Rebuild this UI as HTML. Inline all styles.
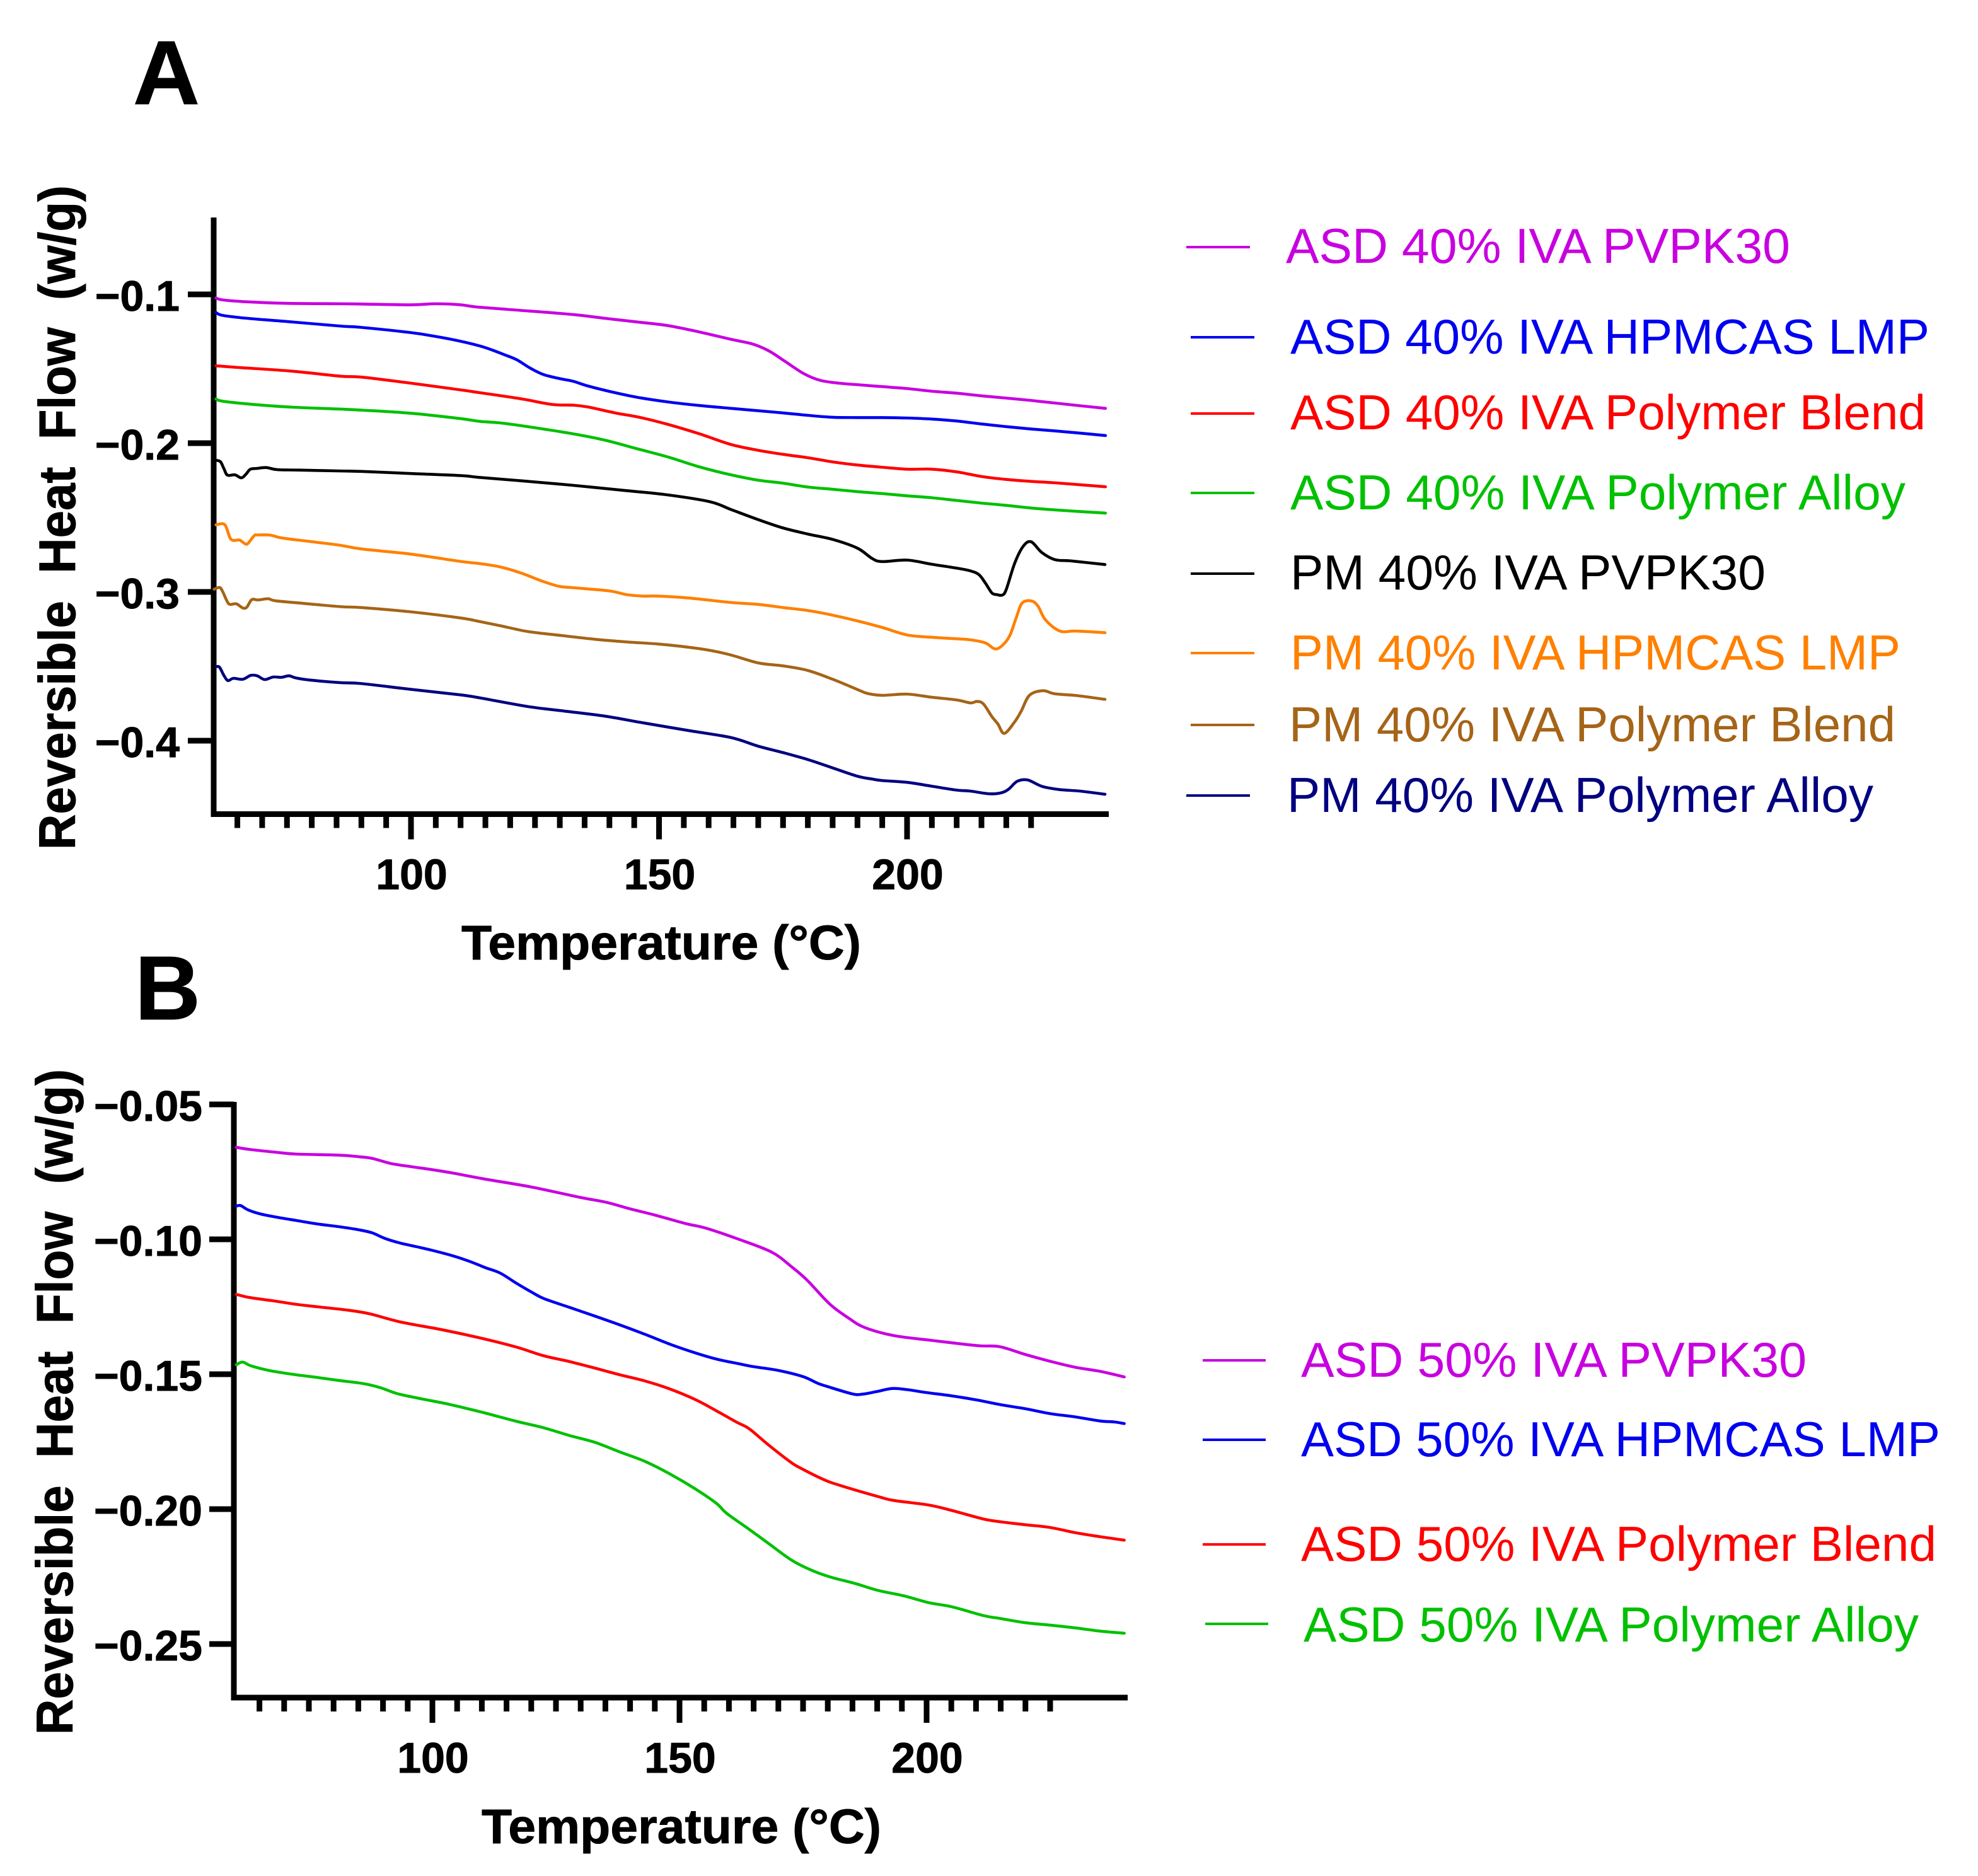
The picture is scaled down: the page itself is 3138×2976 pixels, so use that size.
<!DOCTYPE html>
<html lang="en">
<head>
<meta charset="utf-8">
<title>Reversible heat flow DSC curves</title>
<style>
html,body{margin:0;padding:0;background:#fff;}
svg{display:block;}
text{font-family:"Liberation Sans",sans-serif;white-space:pre;}
.bold{font-weight:700;fill:#000;stroke:#000;stroke-width:0.9;}
.leg{font-size:78px;}
</style>
</head>
<body>
<svg id="figure" xmlns="http://www.w3.org/2000/svg" width="3138" height="2976" viewBox="0 0 3138 2976">
<rect x="0" y="0" width="3138" height="2976" fill="#fff"/>

<text class="bold" x="211" y="165" font-size="144" textLength="106" lengthAdjust="spacingAndGlyphs">A</text>
<text class="bold" x="214" y="1617" font-size="144">B</text>

<g id="panelA"></g>
<g id="panelB"></g>

<text class="bold" x="732" y="1522" font-size="77" textLength="634" lengthAdjust="spacingAndGlyphs">Temperature (°C)</text>
<text class="bold" x="764" y="2924" font-size="77" textLength="634" lengthAdjust="spacingAndGlyphs">Temperature (°C)</text>
<text class="bold" transform="translate(119,1348) rotate(-90)" font-size="82" textLength="1054" lengthAdjust="spacingAndGlyphs">Reversible  Heat  Flow  (w/g)</text>
<text class="bold" transform="translate(115,2752) rotate(-90)" font-size="82" textLength="1056" lengthAdjust="spacingAndGlyphs">Reversible  Heat  Flow  (w/g)</text>

<g stroke-width="4">
<g><line x1="1882" x2="1983" y1="392" y2="392" stroke="#c800e0"/><text class="leg" x="2040" y="417" fill="#c800e0" stroke="none" textLength="800" lengthAdjust="spacingAndGlyphs">ASD 40% IVA PVPK30</text></g>
<g><line x1="1889" x2="1990" y1="535" y2="535" stroke="#0000f0"/><text class="leg" x="2047" y="561" fill="#0000f0" stroke="none" textLength="1014" lengthAdjust="spacingAndGlyphs">ASD 40% IVA HPMCAS LMP</text></g>
<g><line x1="1889" x2="1990" y1="656" y2="656" stroke="#ff0000"/><text class="leg" x="2047" y="681" fill="#ff0000" stroke="none" textLength="1008" lengthAdjust="spacingAndGlyphs">ASD 40% IVA Polymer Blend</text></g>
<g><line x1="1889" x2="1990" y1="782" y2="782" stroke="#00c000"/><text class="leg" x="2047" y="808" fill="#00c000" stroke="none" textLength="976" lengthAdjust="spacingAndGlyphs">ASD 40% IVA Polymer Alloy</text></g>
<g><line x1="1889" x2="1990" y1="910" y2="910" stroke="#000000"/><text class="leg" x="2047" y="935" fill="#000000" stroke="none" textLength="754" lengthAdjust="spacingAndGlyphs">PM 40% IVA PVPK30</text></g>
<g><line x1="1889" x2="1990" y1="1036" y2="1036" stroke="#ff8000"/><text class="leg" x="2047" y="1062" fill="#ff8000" stroke="none" textLength="968" lengthAdjust="spacingAndGlyphs">PM 40% IVA HPMCAS LMP</text></g>
<g><line x1="1889" x2="1990" y1="1150" y2="1150" stroke="#a56417"/><text class="leg" x="2045" y="1176" fill="#a56417" stroke="none" textLength="962" lengthAdjust="spacingAndGlyphs">PM 40% IVA Polymer Blend</text></g>
<g><line x1="1882" x2="1983" y1="1262" y2="1262" stroke="#000080"/><text class="leg" x="2042" y="1288" fill="#000080" stroke="none" textLength="930" lengthAdjust="spacingAndGlyphs">PM 40% IVA Polymer Alloy</text></g>
</g>

<g stroke-width="4">
<g><line x1="1908" x2="2008" y1="2158" y2="2158" stroke="#c800e0"/><text class="leg" x="2064" y="2184" fill="#c800e0" stroke="none" textLength="802" lengthAdjust="spacingAndGlyphs">ASD 50% IVA PVPK30</text></g>
<g><line x1="1908" x2="2008" y1="2284" y2="2284" stroke="#0000f0"/><text class="leg" x="2064" y="2310" fill="#0000f0" stroke="none" textLength="1014" lengthAdjust="spacingAndGlyphs">ASD 50% IVA HPMCAS LMP</text></g>
<g><line x1="1908" x2="2008" y1="2450" y2="2450" stroke="#ff0000"/><text class="leg" x="2064" y="2476" fill="#ff0000" stroke="none" textLength="1008" lengthAdjust="spacingAndGlyphs">ASD 50% IVA Polymer Blend</text></g>
<g><line x1="1912" x2="2012" y1="2576" y2="2576" stroke="#00c000"/><text class="leg" x="2068" y="2604" fill="#00c000" stroke="none" textLength="976" lengthAdjust="spacingAndGlyphs">ASD 50% IVA Polymer Alloy</text></g>
</g>
</svg>

<script>
// ---------- Panel A data (temperature in °C, reversible heat flow in W/g) ----------
const aXMajorTicks = [100, 150, 200];
const aXMinorTicks = [65,70,75,80,85,90,95,105,110,115,120,125,130,135,140,145,155,160,165,170,175,180,185,190,195,205,210,215,220,225];
const aYTicks = [-0.1, -0.2, -0.3, -0.4];
const aYTickLabels = ['−0.1', '−0.2', '−0.3', '−0.4'];

const aPvpTemps = [60.7,62,67,75,85.8,90,100,105,110,113.7,123.9,132.8,139.1,145.5,151.8,158.2,164.5,168.8,172.1,175.3,179.2,182.4,186.3,190,195,200,205,210,215,220,225,230,235,240];
const aPvpValues = [-.1024,-.1037,-.105,-.106,-.1063,-.1065,-.1070,-.1063,-.107,-.1086,-.1112,-.1136,-.1161,-.1185,-.121,-.1253,-.1302,-.1333,-.1379,-.1448,-.1533,-.1577,-.1597,-.1607,-.162,-.1633,-.1651,-.1664,-.1682,-.1697,-.1713,-.1731,-.1749,-.1766];

const aHpmcTemps = [60.7,62,66.7,75.2,85.8,90,100,105,110,113.7,116.3,118.8,121.3,123.9,126.4,128.1,130.7,132.8,135.7,140.4,145.5,151.8,158.2,164.5,170,175,180,185,190,195,200,205,210,215,220,225,230,235,240];
const aHpmcValues = [-.1122,-.1141,-.116,-.1183,-.1213,-.1222,-.1257,-.1283,-.1315,-.1345,-.1373,-.1405,-.1439,-.1493,-.1535,-.1552,-.1571,-.1585,-.1616,-.1655,-.1691,-.1723,-.1747,-.1766,-.1782,-.1797,-.1813,-.1826,-.1828,-.1828,-.1831,-.1838,-.1851,-.1871,-.1889,-.1905,-.1918,-.1933,-.1949];

const aBlendTemps = [60.7,65,76,85.8,90,100,110,113.7,122.2,128.5,132.8,135.7,141.2,145.9,151.8,158.2,164.5,170,175,180,185,190,195,200,205,210,215,220,225,230,235,240];
const aBlendValues = [-.148,-.1491,-.1516,-.155,-.1556,-.1597,-.1642,-.166,-.1702,-.174,-.1745,-.1757,-.1797,-.1825,-.1874,-.1938,-.2009,-.2048,-.2075,-.2098,-.2126,-.2147,-.2162,-.2175,-.2175,-.2193,-.2224,-.2244,-.2257,-.2267,-.228,-.2293];

const aAlloyTemps = [60.7,62,68,76,85.8,90,100,110,113.7,118,123.9,132.8,139.1,145.5,151.8,158.2,164.5,170,175,180,185,190,195,200,205,210,215,220,225,230,235,240];
const aAlloyValues = [-.1703,-.1718,-.1739,-.1758,-.1771,-.1778,-.1799,-.1835,-.1853,-.1864,-.1891,-.1938,-.198,-.2037,-.2093,-.216,-.2213,-.2249,-.2269,-.2295,-.231,-.2326,-.2339,-.2354,-.2367,-.2385,-.2403,-.2418,-.2436,-.2449,-.246,-.247];

const pmPvpTemps = [60.7,61.6,62.3,63,64.5,65.8,66.7,67.6,68.9,70.8,73,77.3,85.8,90,100,110,113.7,122.2,132.8,143.4,151.8,160.3,164.5,170,175,180,185,190,193,195,200,205,210,212.8,214.5,215.8,217.1,218.1,219.2,220,221.7,223.4,225,227.2,229.8,233.2,239.9];
const pmPvpValues = [-.2115,-.2125,-.2172,-.2215,-.2213,-.2233,-.221,-.2176,-.217,-.2164,-.2178,-.2181,-.2187,-.219,-.2204,-.2218,-.223,-.2253,-.2284,-.2319,-.2348,-.2394,-.2446,-.2514,-.257,-.2611,-.2647,-.2706,-.2776,-.2796,-.2786,-.2814,-.284,-.2859,-.2884,-.2941,-.3007,-.3018,-.3021,-.2983,-.2807,-.2694,-.2663,-.2736,-.2783,-.2792,-.2816];

const pmHpmcTemps = [60.7,62,62.7,63.5,64.2,65.4,66.5,67.1,68.4,69.2,71.6,73.9,79.4,85.8,90,100,110,113.7,118,122.2,126.4,129.8,132.8,140,143.4,146.8,149.7,156,164.5,170,175,180,185,190,195,200,205,210,212.8,215.8,217.7,219.2,220.7,222,223.2,225.1,226.4,227.9,230.8,234,239.9];
const pmHpmcValues = [-.2549,-.2541,-.256,-.2635,-.2654,-.2651,-.2675,-.2675,-.2622,-.2617,-.2618,-.2637,-.266,-.2687,-.2711,-.2746,-.2795,-.2809,-.2832,-.2873,-.2927,-.2962,-.2972,-.2993,-.3018,-.3028,-.3028,-.3041,-.3071,-.3084,-.3105,-.3125,-.3156,-.3195,-.3239,-.3289,-.3305,-.3315,-.3322,-.3343,-.3383,-.336,-.3294,-.3174,-.3075,-.3061,-.3096,-.3188,-.3263,-.3263,-.3274];

const pmBlendTemps = [60.3,61.4,62,62.9,63.5,64.8,66.1,66.9,67.9,69.2,71.2,72.6,77.3,85.8,90,100,110,113.7,118,123.5,129.8,137,143.4,149.7,156,160.3,164.5,170,175,180,185,190,192,195,200,205,210,212.8,214.1,215.4,217.1,218.3,219.6,221.7,223,224.7,227.4,229.8,234,239.9];
const pmBlendValues = [-.2982,-.297,-.2995,-.3061,-.3084,-.308,-.3108,-.3103,-.3052,-.3054,-.3046,-.3059,-.3074,-.3099,-.3105,-.3134,-.3175,-.3198,-.3227,-.3266,-.3291,-.3318,-.3336,-.335,-.3372,-.3393,-.3424,-.3477,-.3497,-.3528,-.3587,-.3656,-.3682,-.3695,-.3687,-.3708,-.3726,-.3746,-.3736,-.3753,-.3838,-.3887,-.3951,-.3873,-.3802,-.3694,-.3664,-.3685,-.3696,-.3722];

const pmAlloyTemps = [60.7,61.4,62.3,63.1,64.2,66.1,67.7,69,70.5,72.2,73.9,75.4,76.9,79.8,85.8,90,100,110,113.7,123.5,130.7,139.1,146.8,156,164.5,170,175,180,185,190,193,195,200,205,210,212.8,216.6,219,220.5,222.2,224.3,227.2,230.6,234.9,239.9];
const pmAlloyValues = [-.3502,-.3506,-.3562,-.3596,-.3581,-.3587,-.3561,-.3564,-.3589,-.3572,-.3574,-.3564,-.3579,-.3593,-.361,-.3616,-.3655,-.3692,-.3711,-.377,-.38,-.3835,-.388,-.3932,-.3979,-.4037,-.408,-.4127,-.4183,-.4239,-.4258,-.4268,-.428,-.4306,-.4332,-.4339,-.4357,-.435,-.4325,-.4273,-.4264,-.4307,-.4328,-.4339,-.436];

// ---------- Panel B data ----------
const bXMajorTicks = [100, 150, 200];
const bXMinorTicks = [65,70,75,80,85,90,95,105,110,115,120,125,130,135,140,145,155,160,165,170,175,180,185,190,195,205,210,215,220,225];
const bYTicks = [-0.05, -0.10, -0.15, -0.20, -0.25];
const bYTickLabels = ['−0.05', '−0.10', '−0.15', '−0.20', '−0.25'];

const bPvpTemps = [60.3,63.1,68.2,72.4,81,85.2,87.8,91.6,95.8,100,104.3,110.7,120,130,135,140,145,151.1,155.4,161.7,168.6,172.5,175.8,180.4,184.3,187.5,193.4,201.2,210.3,214.8,220,225,230,235,240];
const bPvpValues = [-.0659,-.0667,-.0677,-.0684,-.0688,-.0694,-.07,-.0719,-.0731,-.0742,-.0755,-.0777,-.0806,-.0845,-.0862,-.0887,-.091,-.0941,-.0959,-.0998,-.1047,-.1099,-.1151,-.124,-.1293,-.1327,-.1357,-.1375,-.1394,-.1398,-.1427,-.1452,-.1474,-.1489,-.151];

const bHpmcTemps = [60.3,61.2,62.7,65.2,68.2,72.4,76.7,81,85.2,87.8,90.3,93.3,96.7,100,104.3,107.7,110.7,113.7,117.1,120.1,122.6,127.7,132.8,137.9,143,148.1,153.2,157.5,161.7,165,170,175,178,180,185,187,190,193,196,200,205,210,215,220,225,230,235,238,240];
const bHpmcValues = [-.0877,-.0875,-.0891,-.0906,-.0917,-.093,-.0943,-.0953,-.0965,-.0976,-.0996,-.1013,-.1027,-.1041,-.1062,-.1083,-.1105,-.1125,-.1164,-.1196,-.122,-.1252,-.1284,-.1317,-.1352,-.1389,-.1421,-.1444,-.146,-.1472,-.1486,-.1509,-.1534,-.1546,-.1573,-.1574,-.1564,-.1553,-.1557,-.1568,-.158,-.1595,-.1613,-.1628,-.1646,-.1658,-.1673,-.1677,-.1683];

const bBlendTemps = [60.3,63.1,68.2,72.4,76.7,83.1,87.3,93.7,102.2,110.7,117.1,122.6,127.7,132.8,137.9,143,148.1,153.2,157.5,161.7,164.1,168,172.5,174.5,179,182.3,190.1,193.4,200.5,205.1,211.6,215,220,225,230,235,240];
const bBlendValues = [-.1204,-.1216,-.1229,-.1241,-.125,-.1263,-.1276,-.1307,-.1336,-.137,-.14,-.1432,-.1453,-.1477,-.1502,-.1525,-.1555,-.1594,-.1636,-.1679,-.1702,-.1762,-.1826,-.1848,-.1889,-.1911,-.1953,-.1968,-.1985,-.2005,-.2037,-.2047,-.2058,-.2068,-.2087,-.2102,-.2115];

const bAlloyTemps = [60.3,61.6,63.3,66.9,71.6,76.7,81,86.1,89.5,92.9,98,102.2,106.5,110.7,117.1,122.6,127.7,132.8,137.9,143,148.1,153.2,157.5,159.5,164.1,168,172.5,176.4,180.4,185.6,190.1,195.3,200.5,205.1,211.6,214.8,220,225,230,235,240];
const bAlloyValues = [-.1465,-.1455,-.1469,-.1486,-.15,-.1512,-.1523,-.1535,-.155,-.1572,-.1592,-.1607,-.1625,-.1644,-.1675,-.1699,-.1727,-.1752,-.1788,-.1823,-.187,-.1925,-.1979,-.2015,-.2075,-.2127,-.2187,-.2224,-.2251,-.2276,-.2301,-.2321,-.2347,-.2362,-.2395,-.2405,-.2421,-.243,-.244,-.2452,-.246];

const SVGNS = 'http://www.w3.org/2000/svg';

function make(tag, parent, props) {
  const el = document.createElementNS(SVGNS, tag);
  for (const k in props) el.setAttribute(k, props[k]);
  parent.appendChild(el);
  return el;
}

function smoothPath(pts) {
  let d = 'M' + pts[0][0].toFixed(2) + ' ' + pts[0][1].toFixed(2);
  for (let i = 0; i < pts.length - 1; i++) {
    const p0 = pts[Math.max(i - 1, 0)], p1 = pts[i], p2 = pts[i + 1], p3 = pts[Math.min(i + 2, pts.length - 1)];
    const c1x = p1[0] + (p2[0] - p0[0]) / 6, c1y = p1[1] + (p2[1] - p0[1]) / 6;
    const c2x = p2[0] - (p3[0] - p1[0]) / 6, c2y = p2[1] - (p3[1] - p1[1]) / 6;
    d += 'C' + c1x.toFixed(2) + ' ' + c1y.toFixed(2) + ' ' + c2x.toFixed(2) + ' ' + c2y.toFixed(2) + ' ' + p2[0].toFixed(2) + ' ' + p2[1].toFixed(2);
  }
  return d;
}

function drawPanel(parent, cfg) {
  const sx = t => cfg.x100 + (t - 100) * cfg.pxPerDeg;
  const sy = v => cfg.yRef + (cfg.vRef - v) * cfg.pxPerUnit;
  const axisW = 9;

  const yAxis = make('line', parent, { x1: cfg.axisX, x2: cfg.axisX, y1: cfg.axisTop, y2: cfg.axisY + axisW / 2, stroke: '#000', 'stroke-width': axisW });
  
  

  const xAxis = make('line', parent, { x1: cfg.axisX - axisW / 2, x2: cfg.axisEnd, y1: cfg.axisY, y2: cfg.axisY, stroke: '#000', 'stroke-width': axisW });
  
  

  cfg.yTicks.forEach((v, i) => {
    const y = sy(v);
    const tick = make('line', parent, { x1: cfg.axisX - cfg.yTickLen, x2: cfg.axisX, y1: y, y2: y, stroke: '#000', 'stroke-width': 9 });
    
    
    const lab = make('text', parent, { x: cfg.yLabelEnd, y: y + 26, 'text-anchor': 'end', 'font-size': 68, class: 'bold' });
    
    
    lab.textContent = cfg.yLabels[i];
  });

  cfg.xMajor.forEach(t => {
    const x = sx(t);
    const tick = make('line', parent, { x1: x, x2: x, y1: cfg.axisY, y2: cfg.axisY + 40, stroke: '#000', 'stroke-width': 9 });
    
    
    const lab = make('text', parent, { x: x + 1, y: cfg.axisY + 119, 'text-anchor': 'middle', 'font-size': 68, class: 'bold' });
    
    
    lab.textContent = String(t);
  });

  cfg.xMinor.forEach(t => {
    const x = sx(t);
    const tick = make('line', parent, { x1: x, x2: x, y1: cfg.axisY, y2: cfg.axisY + 22, stroke: '#000', 'stroke-width': 9 });
    
    
  });

  cfg.series.forEach(s => {
    const pts = s.temps.map((t, i) => [sx(t), sy(s.values[i])]);
    const line = make('path', parent, { d: smoothPath(pts), fill: 'none', stroke: s.color, 'stroke-width': 4.6, 'stroke-linejoin': 'round', 'stroke-linecap': 'round' });
    
    
  });
}

drawPanel(document.getElementById('panelA'), {
  x100: 652, pxPerDeg: 7.87, yRef: 467, vRef: -0.1, pxPerUnit: 2360,
  axisX: 339, axisY: 1291.5, axisTop: 345, axisEnd: 1759, yTickLen: 41, yLabelEnd: 285,
  xMajor: aXMajorTicks, xMinor: aXMinorTicks, yTicks: aYTicks, yLabels: aYTickLabels,
  series: [
    { name: 'series-asd-40-pvpk30', color: '#c800e0', temps: aPvpTemps, values: aPvpValues },
    { name: 'series-asd-40-hpmcas', color: '#0000f0', temps: aHpmcTemps, values: aHpmcValues },
    { name: 'series-asd-40-blend', color: '#ff0000', temps: aBlendTemps, values: aBlendValues },
    { name: 'series-asd-40-alloy', color: '#00c000', temps: aAlloyTemps, values: aAlloyValues },
    { name: 'series-pm-40-pvpk30', color: '#000000', temps: pmPvpTemps, values: pmPvpValues },
    { name: 'series-pm-40-hpmcas', color: '#ff8000', temps: pmHpmcTemps, values: pmHpmcValues },
    { name: 'series-pm-40-blend', color: '#a56417', temps: pmBlendTemps, values: pmBlendValues },
    { name: 'series-pm-40-alloy', color: '#000080', temps: pmAlloyTemps, values: pmAlloyValues }
  ]
});

drawPanel(document.getElementById('panelB'), {
  x100: 686, pxPerDeg: 7.84, yRef: 1752, vRef: -0.05, pxPerUnit: 4280,
  axisX: 371, axisY: 2693, axisTop: 1748, axisEnd: 1789, yTickLen: 39, yLabelEnd: 321,
  xMajor: bXMajorTicks, xMinor: bXMinorTicks, yTicks: bYTicks, yLabels: bYTickLabels,
  series: [
    { name: 'series-asd-50-pvpk30', color: '#c800e0', temps: bPvpTemps, values: bPvpValues },
    { name: 'series-asd-50-hpmcas', color: '#0000f0', temps: bHpmcTemps, values: bHpmcValues },
    { name: 'series-asd-50-blend', color: '#ff0000', temps: bBlendTemps, values: bBlendValues },
    { name: 'series-asd-50-alloy', color: '#00c000', temps: bAlloyTemps, values: bAlloyValues }
  ]
});
</script>
</body>
</html>
